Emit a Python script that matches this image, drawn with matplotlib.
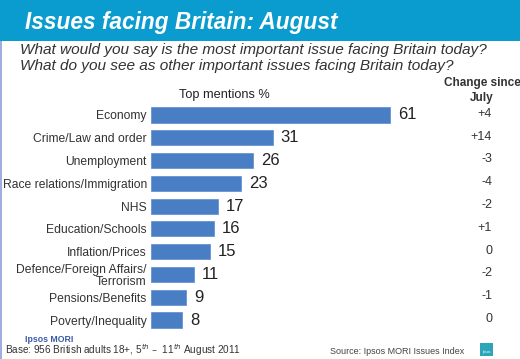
import matplotlib
matplotlib.use("Agg")
import matplotlib.pyplot as plt
from matplotlib.patches import Rectangle
from matplotlib.transforms import blended_transform_factory

categories = ["Economy", "Crime/Law and order", "Unemployment",
              "Race relations/Immigration", "NHS", "Education/Schools",
              "Inflation/Prices", "Defence/Foreign Affairs/\nTerrorism",
              "Pensions/Benefits", "Poverty/Inequality"]
values = [61, 31, 26, 23, 17, 16, 15, 11, 9, 8]
changes = ["+4", "+14", "-3", "-4", "-2", "+1", "0", "-2", "-1", "0"]

W, H = 520, 359
plt.rcParams['font.family'] = ['Liberation Sans', 'DejaVu Sans']
fig = plt.figure(figsize=(W / 100, H / 100), dpi=100)
fig.patch.set_facecolor("white")

# banner
fig.add_artist(Rectangle((0, (H - 41) / H), 1, 41 / H, transform=fig.transFigure,
                         facecolor="#0a9ccf", edgecolor="none", zorder=0))
# left border
fig.add_artist(Rectangle((0, 0), 2 / W, (H - 41) / H, transform=fig.transFigure,
                         facecolor="#a3acdf", edgecolor="none", zorder=0))

fig.text(25 / W, 1 - 22 / H, "Issues facing Britain: August", color="white",
         fontsize=16.3, fontweight="bold", fontstyle="italic", va="center", ha="left")
fig.text(20 / W, 1 - 50 / H, "What would you say is the most important issue facing Britain today?",
         color="#333333", fontsize=11.1, fontstyle="italic", va="center", ha="left")
fig.text(20 / W, 1 - 66 / H, "What do you see as other important issues facing Britain today?",
         color="#333333", fontsize=11.1, fontstyle="italic", va="center", ha="left")

# axes
px_per_unit = 3.92
xmax = 70
spacing = 22.78
top = 115 - spacing / 2
bottom = 320 + spacing / 2
ax = fig.add_axes([151 / W, (H - bottom) / H, xmax * px_per_unit / W, (bottom - top) / H])
y = list(range(len(categories)))
ax.barh(y, values, height=0.66, color="#4a7ec4", edgecolor="#5a8bd0", linewidth=0.5)
ax.set_xlim(0, xmax)
ax.set_ylim(len(categories) - 0.5, -0.5)
ax.set_yticks(y)
ax.set_yticklabels(categories, fontsize=8.75, color="#333333", multialignment="right",
                   linespacing=1.05)
ax.tick_params(axis="y", length=0, pad=3)
ax.set_xticks([])
for s in ax.spines.values():
    s.set_visible(False)
ax.patch.set_alpha(0)

for yi, v in zip(y, values):
    ax.text(v + 2.0, yi, str(v), fontsize=12, color="#222222", va="center", ha="left")

tr = blended_transform_factory(fig.transFigure, ax.transData)
for yi, c in zip(y, changes):
    ax.text(492 / W, yi - 0.05, c, transform=tr, fontsize=9, color="#333333",
            va="center", ha="right")

fig.text(224 / W, 1 - 95 / H, "Top mentions %", fontsize=9.2, color="#222222",
         ha="center", va="center")
fig.text(482 / W, 1 - 83 / H, "Change since", fontsize=8.5, fontweight="bold",
         color="#333333", ha="center", va="center")
fig.text(482 / W, 1 - 98 / H, "July", fontsize=8.5, fontweight="bold",
         color="#333333", ha="center", va="center")

# footer
fig.text(25 / W, 1 - 339 / H, "Ipsos MORI", fontsize=6.3, fontweight="bold",
         color="#3a5aa8", ha="left", va="center")
fig.text(5 / W, 1 - 358 / H, "Base: 956 British adults 18+, 5$^{th}$ \u2013  11$^{th}$ August 2011",
         fontsize=7.2, color="#333333", ha="left", va="bottom")
fig.text(330 / W, 1 - 352 / H, "Source: Ipsos MORI Issues Index", fontsize=6.5,
         color="#444444", ha="left", va="center")
fig.add_artist(Rectangle((480 / W, (H - 356) / H), 13 / W, 13 / H, transform=fig.transFigure,
                         facecolor="#2aa6b8", edgecolor="none"))
fig.text(486.5 / W, 1 - 351.5 / H, "Ipsos", fontsize=2.5, color="white",
         ha="center", va="center")

fig.savefig("out.png", dpi=100)
